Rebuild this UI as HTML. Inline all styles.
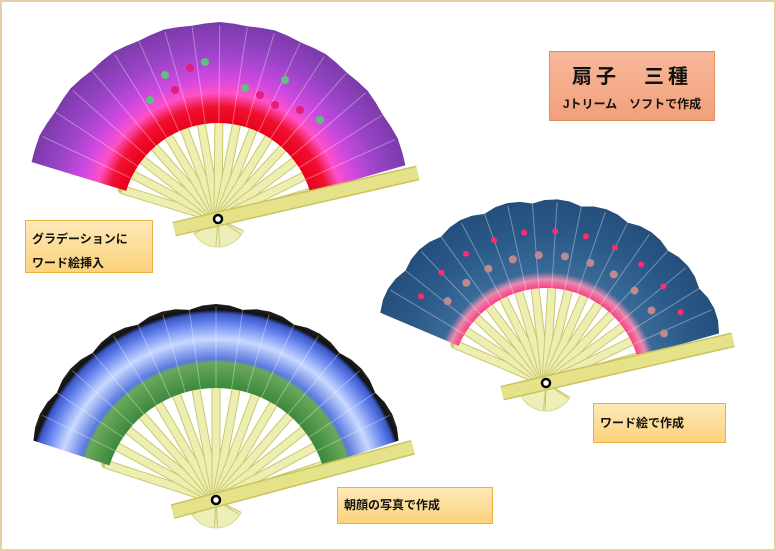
<!DOCTYPE html>
<html><head><meta charset="utf-8"><style>
html,body{margin:0;padding:0;background:#fff}
#wrap{position:relative;width:776px;height:551px;overflow:hidden;background:#fff}
.frame{position:absolute;left:0;top:0;width:772px;height:547px;border:2px solid #e6cfa8}
.lbl{position:absolute;font-family:"Liberation Sans","Noto Sans CJK JP",sans-serif;font-weight:bold;color:#111;box-sizing:border-box}
.y{background:linear-gradient(#fde9b8,#fcd27c);border:1px solid #f0b040;font-size:12px;padding:6px 6px;line-height:24px}
</style></head><body><div id="wrap">
<div class="frame"></div>
<svg id="s" width="776" height="551" style="position:absolute;left:0;top:0">
<defs>
<radialGradient id="g1" gradientUnits="userSpaceOnUse" cx="218" cy="219" r="197">
<stop offset="0.48" stop-color="#e8001a"/><stop offset="0.57" stop-color="#f01030"/><stop offset="0.64" stop-color="#ff50c8"/><stop offset="0.72" stop-color="#d048e0"/><stop offset="0.85" stop-color="#9a44c8"/><stop offset="1" stop-color="#7a3aa8"/></radialGradient>
<radialGradient id="g2" gradientUnits="userSpaceOnUse" cx="546" cy="383" r="185">
<stop offset="0.5" stop-color="#ff2a78"/><stop offset="0.56" stop-color="#e88ab0"/><stop offset="0.6" stop-color="#3a6a98"/><stop offset="0.8" stop-color="#2a5a88"/><stop offset="1" stop-color="#244e7c"/></radialGradient>
<radialGradient id="g3" gradientUnits="userSpaceOnUse" cx="216" cy="500" r="196">
<stop offset="0.58" stop-color="#3e8a3e"/><stop offset="0.7" stop-color="#6aa85a"/><stop offset="0.72" stop-color="#5a78e0"/><stop offset="0.82" stop-color="#c8d8ff"/><stop offset="0.9" stop-color="#6a88f0"/><stop offset="0.95" stop-color="#3a58c8"/><stop offset="0.97" stop-color="#111"/><stop offset="1" stop-color="#222"/></radialGradient>
</defs>
</svg>
<div class="lbl" style="left:549px;top:51px;width:166px;height:70px;background:linear-gradient(#f7b89a,#f2a07a);border:1px solid #e09060;text-align:center">
<div style="font-size:20px;margin-top:8px;letter-spacing:4px">扇子　三種</div>
<div style="font-size:12px;margin-top:6px">Jトリーム　ソフトで作成</div></div>
<div class="lbl y" style="left:25px;top:220px;width:128px;height:53px">グラデーションに<br>ワード絵挿入</div>
<div class="lbl y" style="left:593px;top:403px;width:133px;height:40px;padding-top:7px">ワード絵で作成</div>
<div class="lbl y" style="left:337px;top:487px;width:156px;height:37px;padding-top:5px">朝顔の写真で作成</div>
</div>
<script>
var s=document.getElementById('s'),NS='http://www.w3.org/2000/svg';
function el(t,a){var e=document.createElementNS(NS,t);for(var k in a)e.setAttribute(k,a[k]);s.appendChild(e);return e;}
function P(cx,cy,r,a){a=a*Math.PI/180;return [cx+r*Math.cos(a),cy-r*Math.sin(a)];}
function fan(cx,cy,rIn,rOut,a0,a1,g,n,amp,extra){
 var l1=P(cx,cy,28,a1-180+8),l2=P(cx,cy,28,a0+180-8);
 el('path',{d:'M'+cx+','+cy+' L'+l2+' A28 28 0 0 1 '+l1+'Z',fill:'#eeeeb8',stroke:'#d8d890'});
 for(var i=0;i<=8;i++){var a=(a1-180+8)+((a0+180-8)-(a1-180+8))*i/8,p=P(cx,cy,27,a);
  el('line',{x1:cx,y1:cy,x2:p[0],y2:p[1],stroke:'#c8c870','stroke-width':1});}
 var nr=14;
 for(var i=0;i<=nr;i++){var a=a0+(a1-a0)*i/nr,p=P(cx,cy,rIn+4,a);
  el('line',{x1:cx,y1:cy,x2:p[0],y2:p[1],stroke:'#c8c870','stroke-width':9,'stroke-linecap':'round'});
  el('line',{x1:cx,y1:cy,x2:p[0],y2:p[1],stroke:'#eeeeb0','stroke-width':7});}
 var segs=n;
 var st=P(cx,cy,rIn,a0),d='M'+st;
 for(var i=0;i<=segs;i++){var a=a0+(a1-a0)*i/segs;var r=rOut-(i%2?0:amp);var p=P(cx,cy,r,a);d+=' L'+p;
  if(i<segs){var m=P(cx,cy,rOut-1,a+(a1-a0)/segs/2);d+=' L'+m;}}
 var e=P(cx,cy,rIn,a1);d+=' L'+e+' A'+rIn+' '+rIn+' 0 0 0 '+st+'Z';
 el('path',{d:d,fill:'url(#'+g+')'});
 for(var i=1;i<n;i++){var a=a0+(a1-a0)*i/n,p=P(cx,cy,rIn,a),q=P(cx,cy,rOut-3,a);
  el('line',{x1:p[0],y1:p[1],x2:q[0],y2:q[1],stroke:'#fff','stroke-opacity':0.35,'stroke-width':1});}
 if(extra)extra();
 var ga=a1-3,g1=P(cx,cy,-45,ga),g2=P(cx,cy,rOut+8,ga);
 el('line',{x1:g1[0],y1:g1[1],x2:g2[0],y2:g2[1],stroke:'#c8c460','stroke-width':15});
 el('line',{x1:g1[0],y1:g1[1],x2:g2[0],y2:g2[1],stroke:'#e6e28a','stroke-width':12});
 el('circle',{cx:cx,cy:cy,r:4,fill:'#fff',stroke:'#000','stroke-width':2.5});
}
fan(218,219,96,197,163,16,'g1',18,2,function(){
 var f=[[165,75],[190,68],[205,62],[175,90],[150,100],[260,95],[285,80],[300,110],[245,88],[275,105],[320,120]];
 f.forEach(function(p,i){el('circle',{cx:p[0],cy:p[1],r:4,fill:i%2?'#e0207a':'#60c080'});});
});
fan(546,383,95,184,157,16,'g2',18,4,function(){
 for(var i=1;i<12;i++){var a=157-(141)*i/12,p=P(546,383,152,a),q=P(546,383,128,a-5);
  el('circle',{cx:p[0],cy:p[1],r:3,fill:'#ff2a70'});el('circle',{cx:q[0],cy:q[1],r:4,fill:'#c08890'});}
});
fan(216,500,112,196,162,18,'g3',18,4);
</script>
</body></html>
